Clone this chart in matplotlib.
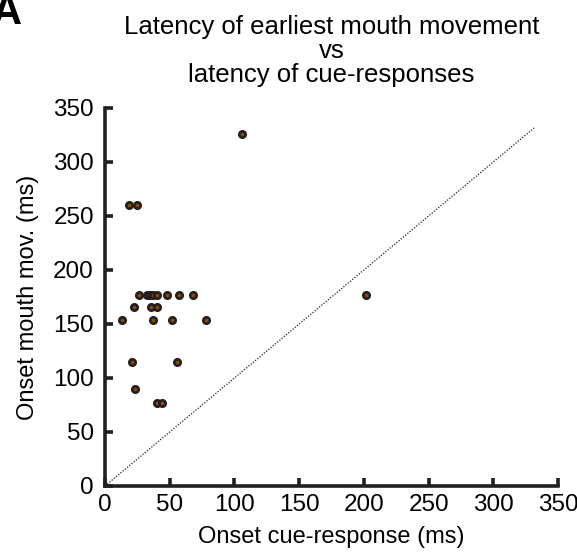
import matplotlib

matplotlib.use("Agg")

import matplotlib.pyplot as plt  # noqa: E402

INK = "#231f20"

# onset of cue-response (ms) vs onset of earliest mouth movement (ms)
cue_onset = [18.5, 24.7,
             26.4, 32.6, 34.7, 36.7, 39.8, 48.0, 57.3, 68.3,
             22.6, 35.9, 40.0,
             13.1, 37.4, 52.0, 78.3,
             21.0, 55.5,
             23.1,
             39.8, 44.0,
             105.5, 201.3]
mouth_onset = [260, 260,
               177, 177, 177, 177, 177, 177, 177, 177,
               166, 166, 166,
               154, 154, 154, 154,
               115, 115,
               90,
               77, 77,
               326, 177]
diag = [0, 332]
ticks = [0, 50, 100, 150, 200, 250, 300, 350]

plt.rcParams.update({"font.family": ["Liberation Sans", "DejaVu Sans"]})

fig = plt.figure(figsize=(5.77, 5.56), dpi=100)
ax = fig.add_axes([105 / 577, 1 - 486 / 556, 453 / 577, 378 / 556])

ax.plot(diag, diag, ls=(0, (1, 1.3)), color=INK, lw=0.9, zorder=2)
ax.plot(cue_onset, mouth_onset, ls="none", marker="o", ms=4.6,
        mfc="#8a4a00", mec=INK, mew=1.9, zorder=3)

ax.set_xlim(0, 350)
ax.set_ylim(0, 350)
ax.set_xticks(ticks)
ax.set_yticks(ticks)
for sp in ("top", "right"):
    ax.spines[sp].set_visible(False)
for sp in ("left", "bottom"):
    ax.spines[sp].set_color(INK)
    ax.spines[sp].set_linewidth(2.6)
ax.tick_params(direction="in", length=6, width=2.6, color=INK,
               labelsize=17.5, labelcolor="black")
ax.tick_params(axis="y", pad=8)
ax.tick_params(axis="x", pad=6)

ax.set_xlabel("Onset cue-response (ms)", fontsize=17, labelpad=7)
ax.set_ylabel("Onset mouth mov. (ms)", fontsize=17, labelpad=10)
ax.set_title("Latency of earliest mouth movement\nvs\nlatency of cue-responses",
             fontsize=18.5, linespacing=1.0, pad=19)

fig.text(0.012, 1.012, "A", fontsize=30, fontweight="bold",
         ha="center", va="top")

fig.savefig("out.png", dpi=100)
